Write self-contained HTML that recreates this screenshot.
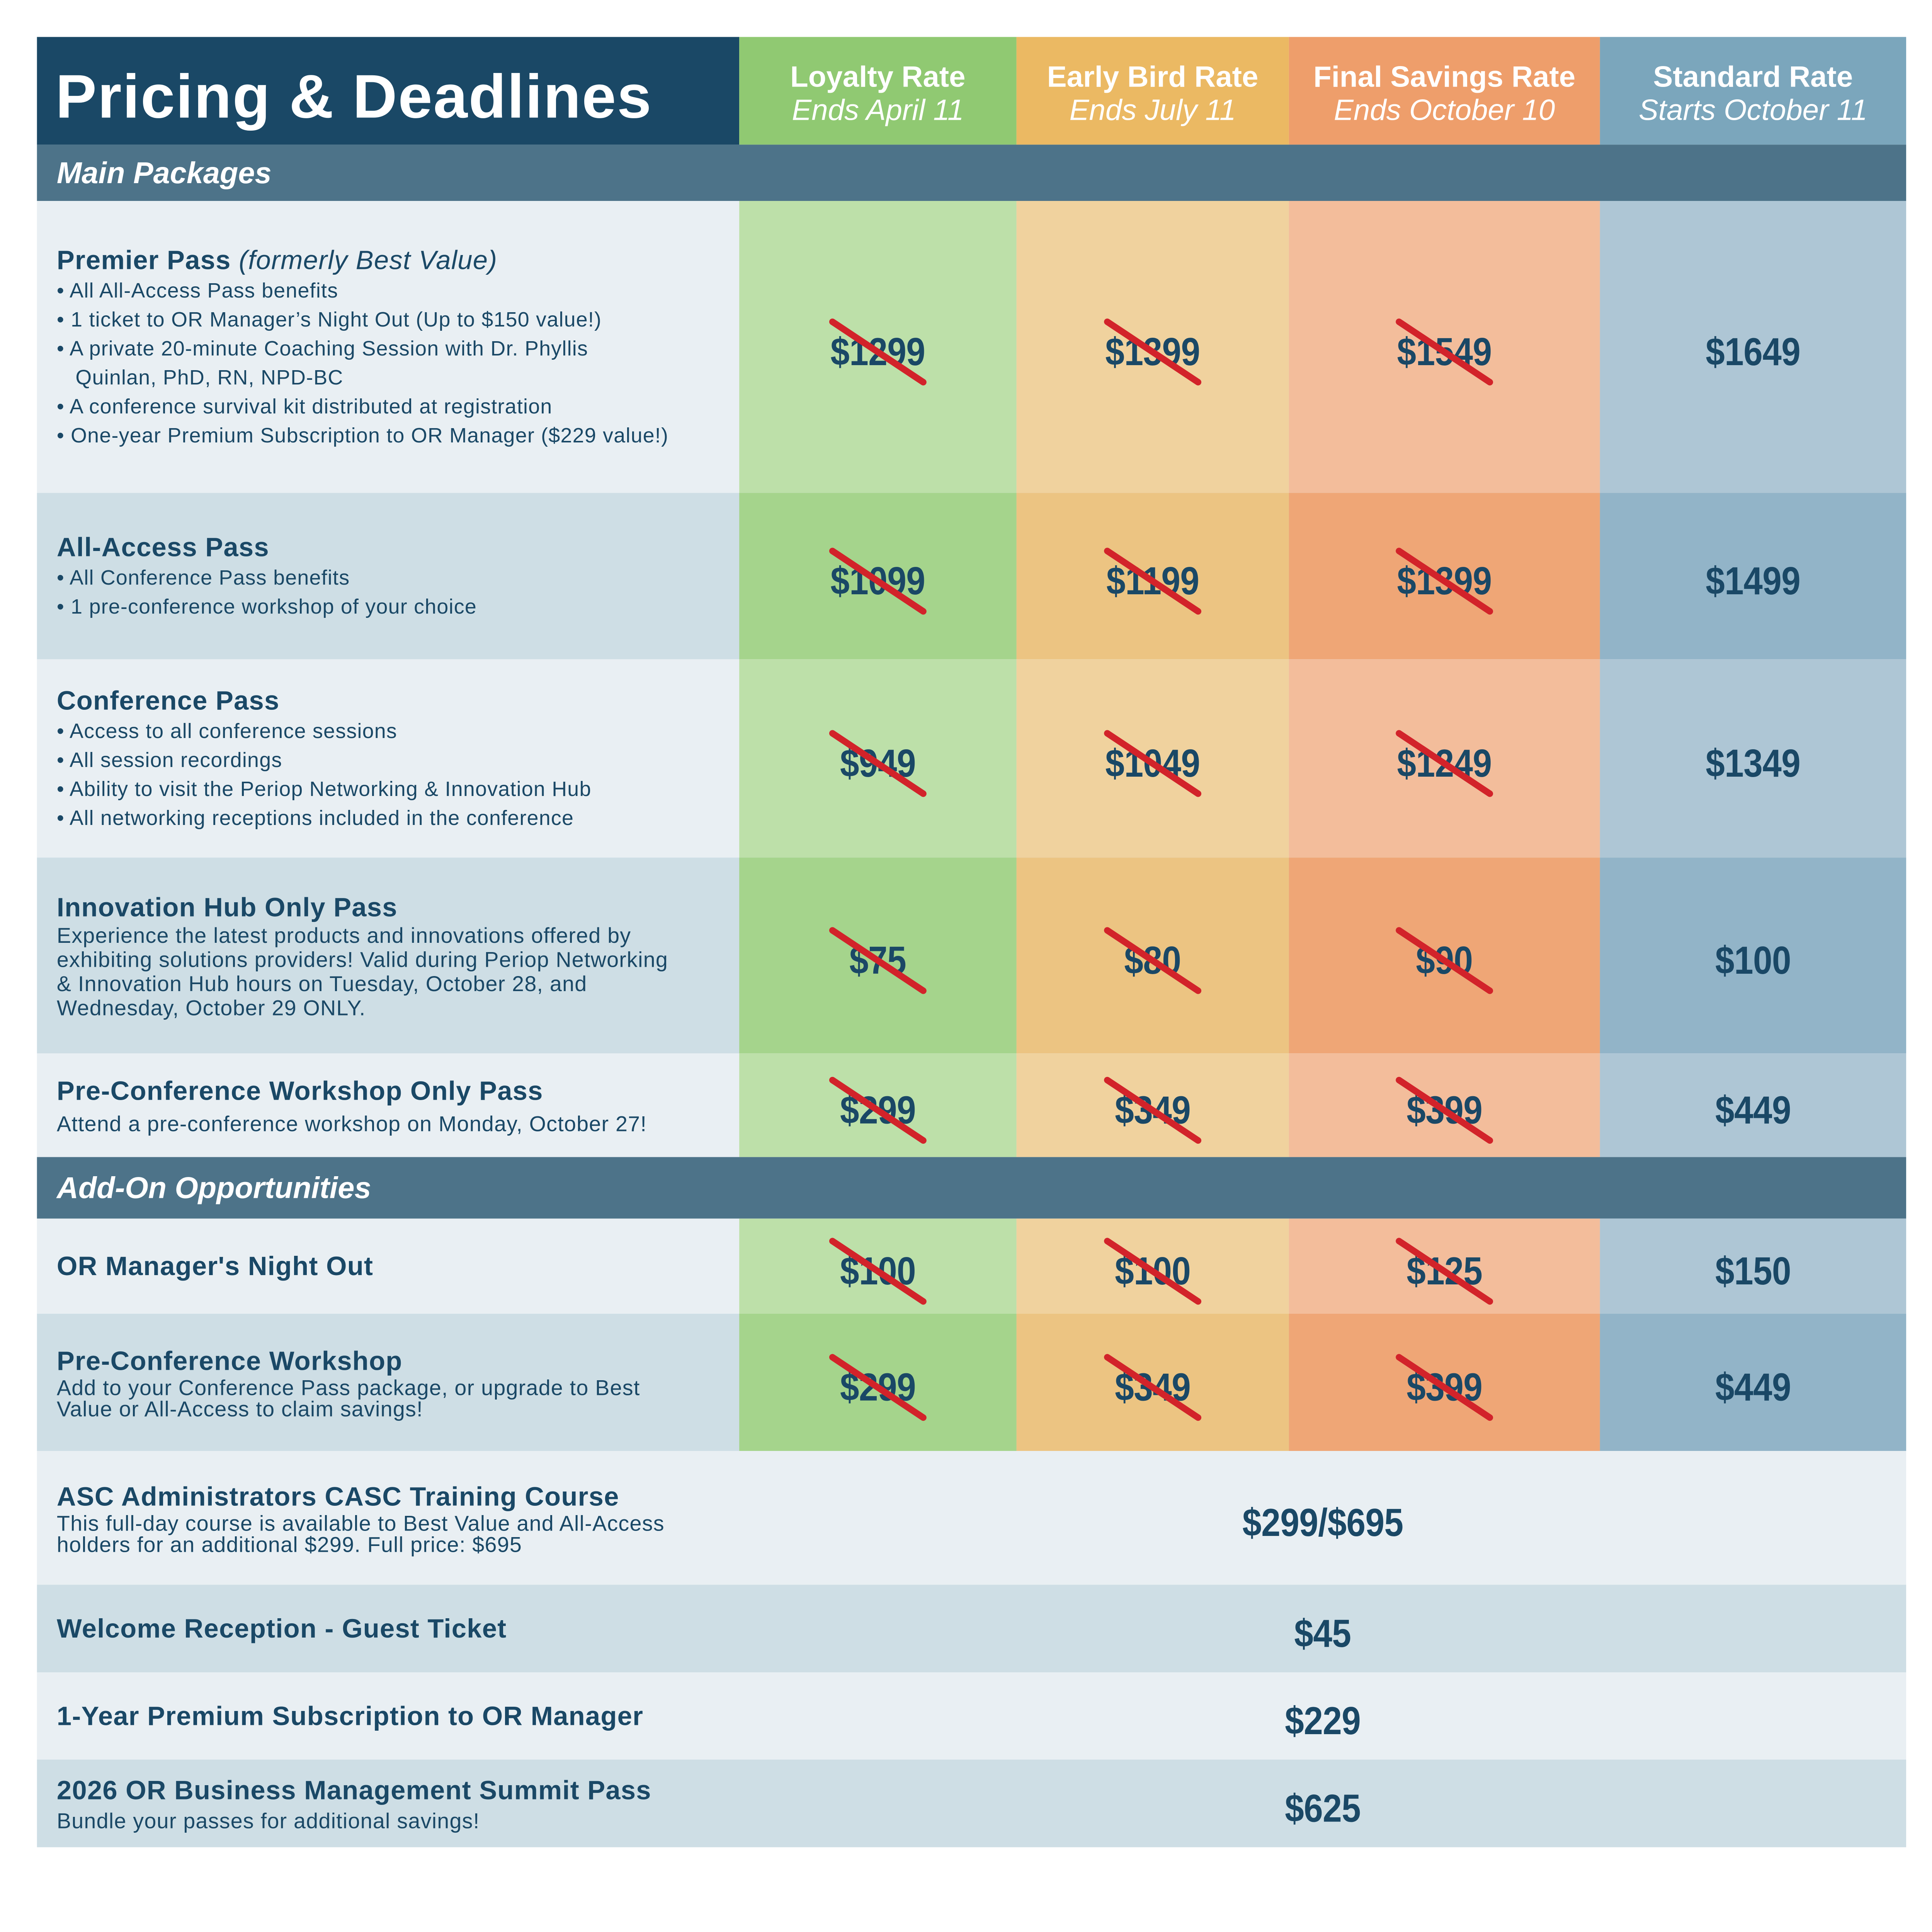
<!DOCTYPE html>
<html><head><meta charset="utf-8"><style>
*{margin:0;padding:0;box-sizing:border-box}
html,body{margin:0;overflow:hidden;background:#fff}
#root{position:absolute;left:0;top:0;width:8000px;height:7917px;background:#fff;overflow:hidden;transform-origin:0 0;font-family:"Liberation Sans",sans-serif;color:#1a4866}
.b{position:absolute}
.lt{position:absolute;left:153px;width:2908px;display:flex;flex-direction:column;justify-content:center;padding-left:82px;white-space:nowrap}
.t{font-weight:bold;font-size:110px;line-height:132px;letter-spacing:2px}
.t i{font-weight:normal}
.d{font-size:89px;line-height:100px;letter-spacing:2px}
.u{font-size:86px;line-height:120px;letter-spacing:2px}
.p{position:absolute;display:flex;align-items:center;justify-content:center;font-weight:bold;font-size:162px;letter-spacing:-1px}
.p span{display:inline-block;transform:scaleX(0.88);padding-top:40px}
.hd{position:absolute;top:153px;height:446px;color:#fff;text-align:center;font-size:122px}
.band{position:absolute;left:153px;width:7740px;background:#4d7389;color:#fff;font-weight:bold;font-style:italic;font-size:124px;padding-left:82px;display:flex;align-items:center}
</style></head><body>
<div id="root">
<div class="b" style="left:153px;top:153px;width:2908px;height:446px;background:#1a4866"></div>
<div class="b" style="left:230px;top:250px;color:#fff;font-weight:bold;font-size:255px;letter-spacing:4px;line-height:300px;white-space:nowrap">Pricing &amp; Deadlines</div>
<div class="hd" style="left:3061px;width:1148px;background:#90c972"><div style="margin-top:95px;line-height:138px"><b>Loyalty Rate</b><br><i>Ends April 11</i></div></div>
<div class="hd" style="left:4209px;width:1128px;background:#ebb963"><div style="margin-top:95px;line-height:138px"><b>Early Bird Rate</b><br><i>Ends July 11</i></div></div>
<div class="hd" style="left:5337px;width:1288px;background:#ee9e6b"><div style="margin-top:95px;line-height:138px"><b>Final Savings Rate</b><br><i>Ends October 10</i></div></div>
<div class="hd" style="left:6625px;width:1268px;background:#7ba6bc"><div style="margin-top:95px;line-height:138px"><b>Standard Rate</b><br><i>Starts October 11</i></div></div>
<div class="band" style="top:599px;height:233px">Main Packages</div>
<div class="band" style="top:4791px;height:255px">Add-On Opportunities</div>
<div id="content"></div>
</div>
<script>
var cols=[3061,4209,5337,6625,7893];
var light=['#bde0a9','#f0d29e','#f3bd9b','#aec6d5'];
var dark=['#a5d48c','#ecc482','#efa676','#92b4c8'];
var rows=[
 [832,2041,0,['$1299','$1399','$1549','$1649']],
 [2041,2730,1,['$1099','$1199','$1399','$1499']],
 [2730,3551,0,['$949','$1049','$1249','$1349']],
 [3551,4362,1,['$75','$80','$90','$100']],
 [4362,4791,0,['$299','$349','$399','$449']],
 [5046,5440,0,['$100','$100','$125','$150']],
 [5440,6008,1,['$299','$349','$399','$449']],
 [6008,6562,0,'$299/$695'],
 [6562,6925,1,'$45'],
 [6925,7286,0,'$229'],
 [7286,7649,1,'$625']
];
var texts=[
 '<div class="t">Premier Pass <i>(formerly Best Value)</i></div><div class="u">• All All-Access Pass benefits<br>• 1 ticket to OR Manager’s Night Out (Up to $150 value!)<br>• A private 20-minute Coaching Session with Dr. Phyllis<br>&nbsp;&nbsp;&nbsp;Quinlan, PhD, RN, NPD-BC<br>• A conference survival kit distributed at registration<br>• One-year Premium Subscription to OR Manager ($229 value!)</div>',
 '<div class="t">All-Access Pass</div><div class="u">• All Conference Pass benefits<br>• 1 pre-conference workshop of your choice</div>',
 '<div class="t">Conference Pass</div><div class="u">• Access to all conference sessions<br>• All session recordings<br>• Ability to visit the Periop Networking &amp; Innovation Hub<br>• All networking receptions included in the conference</div>',
 '<div class="t">Innovation Hub Only Pass</div><div class="d">Experience the latest products and innovations offered by<br>exhibiting solutions providers! Valid during Periop Networking<br>&amp; Innovation Hub hours on Tuesday, October 28, and<br>Wednesday, October 29 ONLY.</div>',
 '<div class="t">Pre-Conference Workshop Only Pass</div><div class="d" style="margin-top:20px">Attend a pre-conference workshop on Monday, October 27!</div>',
 '<div class="t">OR Manager\'s Night Out</div>',
 '<div class="t">Pre-Conference Workshop</div><div class="d" style="line-height:88px">Add to your Conference Pass package, or upgrade to Best<br>Value or All-Access to claim savings!</div>',
 '<div class="t">ASC Administrators CASC Training Course</div><div class="d" style="line-height:88px">This full-day course is available to Best Value and All-Access<br>holders for an additional $299. Full price: $695</div>',
 '<div class="t">Welcome Reception - Guest Ticket</div>',
 '<div class="t">1-Year Premium Subscription to OR Manager</div>',
 '<div class="t">2026 OR Business Management Summit Pass</div><div class="d" style="margin-top:10px">Bundle your passes for additional savings!</div>'
];
var h='',s='';
rows.forEach(function(r,i){
 var y0=r[0],y1=r[1],alt=r[2],hh=y1-y0;
 h+='<div class="b" style="left:153px;top:'+y0+'px;width:7740px;height:'+hh+'px;background:'+(alt?'#cedee5':'#e9eff3')+'"></div>';
 h+='<div class="lt" style="top:'+y0+'px;height:'+hh+'px">'+texts[i]+'</div>';
 if(typeof r[3]==='string'){
  h+='<div class="p" style="left:3061px;width:4832px;top:'+y0+'px;height:'+hh+'px"><span>'+r[3]+'</span></div>';
 } else {
  for(var c=0;c<4;c++){
   var x0=cols[c],x1=cols[c+1];
   h+='<div class="b" style="left:'+x0+'px;top:'+y0+'px;width:'+(x1-x0)+'px;height:'+hh+'px;background:'+(alt?dark[c]:light[c])+'"></div>';
   h+='<div class="p" style="left:'+x0+'px;width:'+(x1-x0)+'px;top:'+y0+'px;height:'+hh+'px"><span>'+r[3][c]+'</span></div>';
   if(c<3){
    var cx=(x0+x1)/2,cy=(y0+y1)/2+21;
    s+='<line x1="'+(cx-188)+'" y1="'+(cy-125)+'" x2="'+(cx+188)+'" y2="'+(cy+125)+'" stroke="#d2232a" stroke-width="27" stroke-linecap="round"/>';
   }
  }
 }
});
document.getElementById('content').innerHTML=h+'<svg class="b" style="left:0;top:0" width="8000" height="7917">'+s+'</svg>';
function fit(){
 var w=document.documentElement.clientWidth||window.innerWidth,hgt=window.innerHeight;
 var k=Math.min(w/8000,hgt/7917);
 if(!(k>0))k=1;
 document.getElementById('root').style.transform='scale('+k+')';
}
fit();window.addEventListener('resize',fit);
</script>
</body></html>
